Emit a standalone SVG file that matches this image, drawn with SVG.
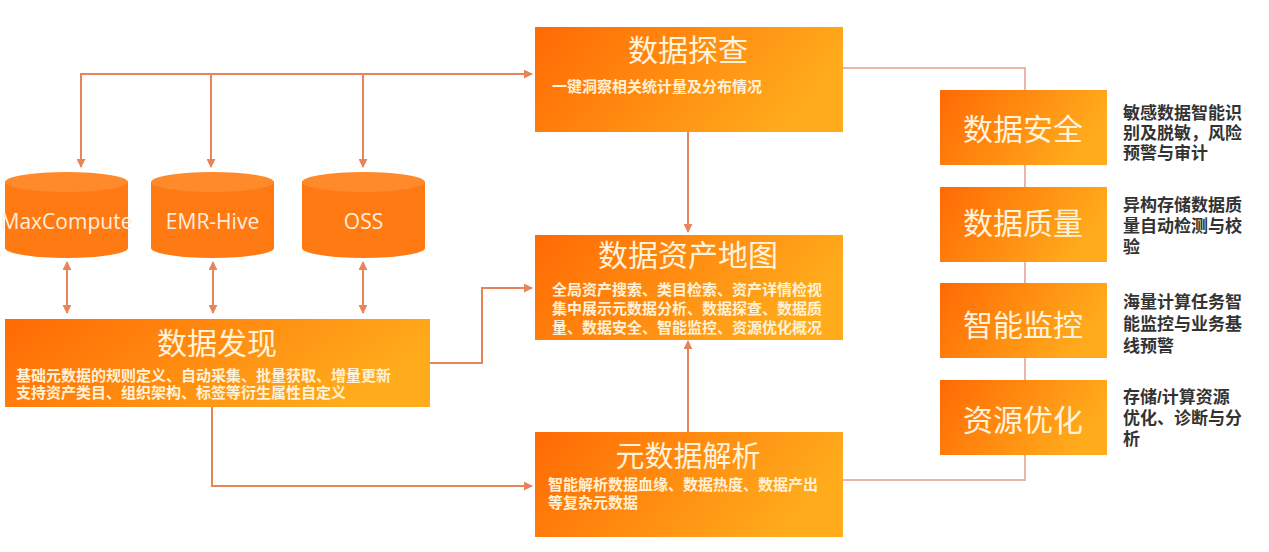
<svg xmlns="http://www.w3.org/2000/svg" width="1269" height="552" viewBox="0 0 1269 552">
<defs>
<linearGradient id="og" x1="0" y1="0" x2="1" y2="0.3">
<stop offset="0" stop-color="#ff6a04"/>
<stop offset="1" stop-color="#ffab1c"/>
</linearGradient>
<marker id="ah" viewBox="0 0 10 10" refX="9" refY="5" markerWidth="9" markerHeight="9" markerUnits="userSpaceOnUse" orient="auto-start-reverse">
<path d="M0,0 L10,5 L0,10 z" fill="#e8845a"/>
</marker>
<style>
.box{fill:url(#og);}
.cyl{fill:#ff7a12;}
.cyltop{fill:#ff8a2c;}
.title{font-family:"Liberation Sans","Noto Sans CJK SC",sans-serif;fill:#fff3dc;text-anchor:middle;}
.body{font-family:"Liberation Sans","Noto Sans CJK SC",sans-serif;font-size:15px;font-weight:bold;fill:#fff1d6;}
.desc{font-family:"Liberation Sans","Noto Sans CJK SC",sans-serif;font-size:17px;font-weight:bold;fill:#333333;}
.lbl{font-family:"Open Sans","Noto Sans",sans-serif;font-size:21px;fill:#ffeede;text-anchor:middle;}
.con{fill:none;stroke:#e8845a;stroke-width:2;}
.side{fill:none;stroke:#ebb6a8;stroke-width:2;}
</style>
</defs>
<rect width="1269" height="552" fill="#ffffff"/>

<g id="connectors">
<path class="side" d="M843,68 H1025 V480 H843"/>
<path class="con" d="M81,167 V74 H532" marker-start="url(#ah)" marker-end="url(#ah)"/>
<path class="con" d="M211,74 V167" marker-end="url(#ah)"/>
<path class="con" d="M363,74 V167" marker-end="url(#ah)"/>
<path class="con" d="M67,262 V313" marker-start="url(#ah)" marker-end="url(#ah)"/>
<path class="con" d="M213,262 V313" marker-start="url(#ah)" marker-end="url(#ah)"/>
<path class="con" d="M363,262 V313" marker-start="url(#ah)" marker-end="url(#ah)"/>
<path class="con" d="M430,363 H482 V288 H532" marker-end="url(#ah)"/>
<path class="con" d="M212,407 V486 H532" marker-end="url(#ah)"/>
<path class="con" d="M688,132 V232" marker-end="url(#ah)"/>
<path class="con" d="M688,432 V341" marker-end="url(#ah)"/>
</g>

<g id="maxcompute">
<rect class="cyl" x="5" y="182" width="123" height="66"/>
<ellipse class="cyl" cx="66.5" cy="248" rx="61.5" ry="10"/>
<ellipse class="cyltop" cx="66.5" cy="182" rx="61.5" ry="10"/>
<text class="lbl" x="66.5" y="229">MaxCompute</text>
</g>
<g id="emr-hive">
<rect class="cyl" x="151" y="182" width="123" height="66"/>
<ellipse class="cyl" cx="212.5" cy="248" rx="61.5" ry="10"/>
<ellipse class="cyltop" cx="212.5" cy="182" rx="61.5" ry="10"/>
<text class="lbl" x="212.5" y="229">EMR-Hive</text>
</g>
<g id="oss">
<rect class="cyl" x="302" y="182" width="123" height="66"/>
<ellipse class="cyl" cx="363.5" cy="248" rx="61.5" ry="10"/>
<ellipse class="cyltop" cx="363.5" cy="182" rx="61.5" ry="10"/>
<text class="lbl" x="363.5" y="229">OSS</text>
</g>

<g id="data-explore">
<rect class="box" x="535" y="27" width="308" height="105"/>
<text class="title" x="688" y="61" font-size="30">数据探查</text>
<text class="body" x="552" y="92">一键洞察相关统计量及分布情况</text>
</g>

<g id="asset-map">
<rect class="box" x="535" y="235" width="308" height="105"/>
<text class="title" x="688" y="266" font-size="30">数据资产地图</text>
<text class="body" x="552" y="295">全局资产搜索、类目检索、资产详情检视<tspan x="552" dy="19">集中展示元数据分析、数据探查、数据质</tspan><tspan x="552" dy="19">量、数据安全、智能监控、资源优化概况</tspan></text>
</g>

<g id="metadata-parse">
<rect class="box" x="535" y="432" width="308" height="105"/>
<text class="title" x="688" y="467" font-size="29">元数据解析</text>
<text class="body" x="548" y="490">智能解析数据血缘、数据热度、数据产出<tspan x="548" dy="18">等复杂元数据</tspan></text>
</g>

<g id="data-discovery">
<rect class="box" x="5" y="319" width="425" height="88"/>
<text class="title" x="217" y="354" font-size="30">数据发现</text>
<text class="body" x="16" y="381">基础元数据的规则定义、自动采集、批量获取、增量更新<tspan x="16" dy="17">支持资产类目、组织架构、标签等衍生属性自定义</tspan></text>
</g>

<g id="data-security">
<rect class="box" x="940" y="90" width="167" height="75"/>
<text class="title" x="1023" y="140" font-size="30">数据安全</text>
<text class="desc" x="1123" y="119">敏感数据智能识<tspan x="1123" dy="20">别及脱敏，风险</tspan><tspan x="1123" dy="20">预警与审计</tspan></text>
</g>

<g id="data-quality">
<rect class="box" x="940" y="187" width="167" height="75"/>
<text class="title" x="1023" y="234" font-size="30">数据质量</text>
<text class="desc" x="1123" y="211">异构存储数据质<tspan x="1123" dy="21">量自动检测与校</tspan><tspan x="1123" dy="21">验</tspan></text>
</g>

<g id="smart-monitor">
<rect class="box" x="940" y="283" width="167" height="75"/>
<text class="title" x="1023" y="336" font-size="30">智能监控</text>
<text class="desc" x="1123" y="308">海量计算任务智<tspan x="1123" dy="22">能监控与业务基</tspan><tspan x="1123" dy="22">线预警</tspan></text>
</g>

<g id="resource-opt">
<rect class="box" x="940" y="380" width="167" height="75"/>
<text class="title" x="1023" y="431" font-size="30">资源优化</text>
<text class="desc" x="1123" y="403">存储/计算资源<tspan x="1123" dy="21">优化、诊断与分</tspan><tspan x="1123" dy="21">析</tspan></text>
</g>
</svg>
